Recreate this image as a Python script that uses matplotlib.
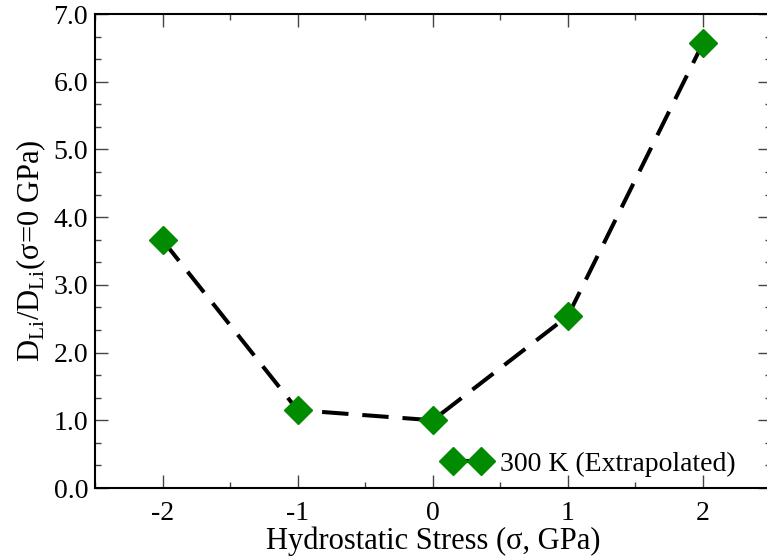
import matplotlib
matplotlib.use("Agg")
import matplotlib.pyplot as plt
from matplotlib.ticker import MultipleLocator, FormatStrFormatter

stress = [-2, -1, 0, 1, 2]
ratio = [3.66, 1.15, 1.0, 2.54, 6.57]
series_label = "300 K (Extrapolated)"

plt.rcParams["font.family"] = ["Liberation Serif", "DejaVu Serif"]
plt.rcParams["mathtext.fontset"] = "custom"
plt.rcParams["mathtext.rm"] = "Liberation Serif"
plt.rcParams["axes.unicode_minus"] = False
plt.rcParams["lines.scale_dashes"] = False

fig = plt.figure(figsize=(7.67, 5.57), dpi=100)
ax = fig.add_axes([95 / 767, 69 / 557, 675.5 / 767, 474 / 557])

ax.plot(stress, ratio, color="black", lw=2.9, dashes=(19, 10),
        marker="D", markersize=14, markerfacecolor="#008b00",
        markeredgecolor="#008b00", label=series_label)

ax.set_xlim(-2.5, 2.5)
ax.set_ylim(0, 7)
ax.xaxis.set_major_locator(MultipleLocator(1))
ax.xaxis.set_minor_locator(MultipleLocator(0.5))
ax.yaxis.set_major_locator(MultipleLocator(1))
ax.yaxis.set_minor_locator(MultipleLocator(1 / 3))
ax.yaxis.set_major_formatter(FormatStrFormatter("%.1f"))

ax.tick_params(which="both", direction="in", top=True, right=True,
               labelsize=20, width=1, color="#444444")
ax.tick_params(which="major", length=9.5)
ax.tick_params(axis="x", which="major", pad=9)
ax.tick_params(axis="y", which="major", pad=5)
ax.tick_params(which="minor", length=4.5)
for s in ax.spines.values():
    s.set_linewidth(1.5)

ax.set_xlabel("Hydrostatic Stress (σ, GPa)", fontsize=22, labelpad=1)
ax.set_ylabel(r"D$_{\rm Li}$/D$_{\rm Li}$(σ=0 GPa)", fontsize=22, labelpad=4)

ax.legend(loc="center left", bbox_to_anchor=(0.5177, 0.051), frameon=False,
          numpoints=2, handlelength=1.6, handletextpad=0.4, fontsize=20,
          borderpad=0, borderaxespad=0)

fig.savefig("out.png", dpi=100)
